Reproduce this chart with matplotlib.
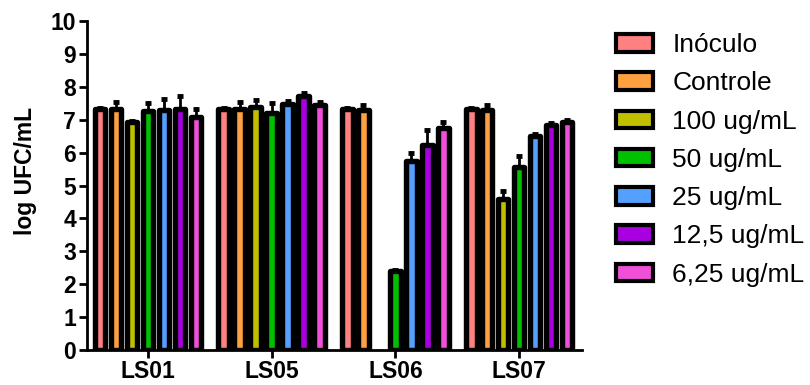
import numpy as np
import matplotlib
matplotlib.use("Agg")
import matplotlib.pyplot as plt
from matplotlib.patches import Patch

plt.rcParams['font.family'] = ['Liberation Sans', 'DejaVu Sans']

# dados (log UFC/mL)
grupos = ["LS01", "LS05", "LS06", "LS07"]
series = ["Inóculo", "Controle", "100 ug/mL", "50 ug/mL", "25 ug/mL", "12,5 ug/mL", "6,25 ug/mL"]
cores = ["#FF8080", "#FFA040", "#C0C000", "#00C000", "#55A0FF", "#A800E0", "#F050D8"]

inoculo = [7.33, 7.33, 7.33, 7.33]
controle = [7.33, 7.33, 7.31, 7.31]
c100 = [6.92, 7.40, 0.0, 4.60]
c50 = [7.26, 7.21, 2.41, 5.55]
c25 = [7.30, 7.49, 5.76, 6.52]
c12 = [7.33, 7.72, 6.23, 6.84]
c6 = [7.09, 7.45, 6.74, 6.94]

err_inoculo = [0.03, 0.03, 0.03, 0.03]
err_controle = [0.20, 0.20, 0.15, 0.15]
err_c100 = [0.05, 0.20, 0.0, 0.22]
err_c50 = [0.25, 0.30, 0.03, 0.35]
err_c25 = [0.33, 0.08, 0.22, 0.05]
err_c12 = [0.40, 0.08, 0.45, 0.05]
err_c6 = [0.25, 0.08, 0.20, 0.05]

valores = [inoculo, controle, c100, c50, c25, c12, c6]
erros = [err_inoculo, err_controle, err_c100, err_c50, err_c25, err_c12, err_c6]

fig = plt.figure(figsize=(8.1, 3.85), dpi=100)
ax = fig.add_axes([0.1074, 0.0909, 0.611, 0.8545])

x = np.arange(len(grupos))
passo = 0.1293
larg = 0.086
for j in range(len(series)):
    pos = x + (j - 3) * passo
    h = np.array(valores[j], dtype=float)
    h[h == 0] = np.nan  # sem crescimento: nada desenhado
    ax.bar(pos, h, width=larg, color=cores[j], edgecolor='black',
           linewidth=3.9, joinstyle='round', zorder=2)
    ax.errorbar(pos, h, yerr=[np.zeros(len(grupos)), erros[j]],
                fmt='none', ecolor='black', elinewidth=2, capsize=2.5,
                capthick=3.5, zorder=1)

ax.set_xlim(-0.493, 3.507)
ax.set_ylim(0, 10)
ax.set_yticks(range(0, 11))
ax.set_xticks(x)
ax.set_xticklabels(grupos)
for s in ['top', 'right']:
    ax.spines[s].set_visible(False)
for s in ['left', 'bottom']:
    ax.spines[s].set_linewidth(2)
ax.tick_params(axis='both', length=6, width=2, labelsize=16.5, pad=2)
ax.tick_params(axis='x', pad=1.5)
for lab in ax.get_xticklabels() + ax.get_yticklabels():
    lab.set_fontweight('bold')
ax.set_ylabel("log UFC/mL", fontsize=16.5, fontweight='bold')
ax.yaxis.set_label_coords(-0.101, 0.544)

handles = [Patch(facecolor=c, edgecolor='black', linewidth=3) for c in cores]
fig.legend(handles, series, loc='upper left', bbox_to_anchor=(0.760, 0.914),
           frameon=False, fontsize=19, handlelength=1.4, handleheight=0.65,
           handletextpad=0.75, labelspacing=0.54, borderpad=0, borderaxespad=0)

fig.savefig("out.png", dpi=100)
